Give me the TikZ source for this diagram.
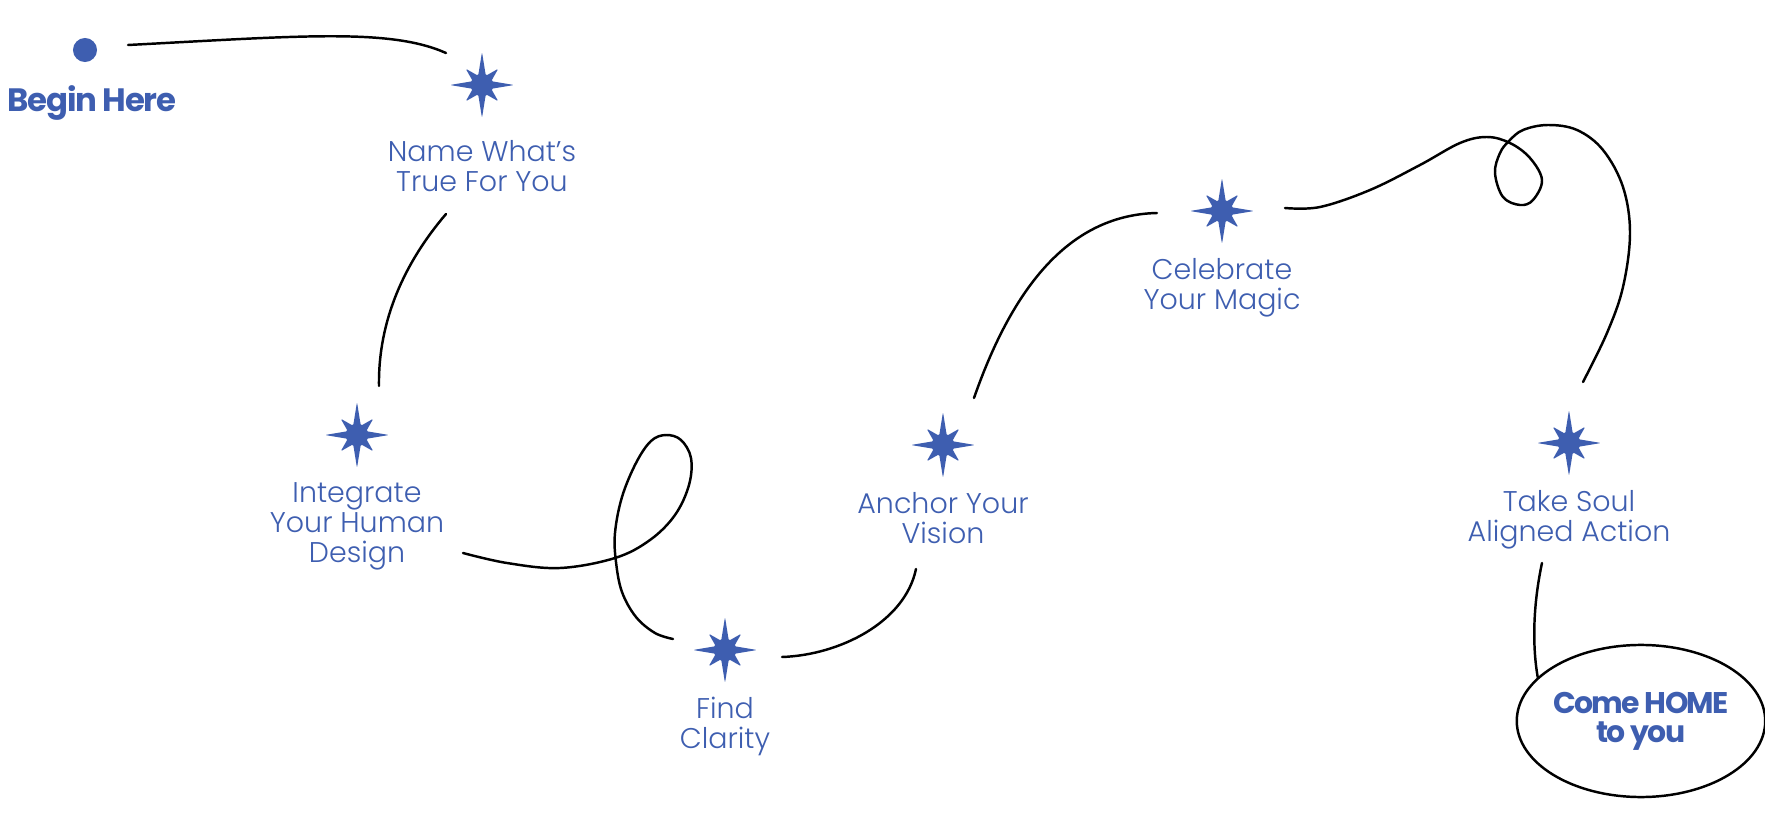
\documentclass[tikz,border=0pt]{standalone}
\usepackage{fontspec}
\setmainfont{Poppins}
\IfFontExistsTF{Poppins Light}
  {\newfontfamily\stepfont{Poppins Light}}
  {\newfontfamily\stepfont{Poppins}}
\usepackage{tikz}
\usetikzlibrary{positioning,shapes.geometric}
\definecolor{starblue}{HTML}{3E5EB0}
\newcommand{\sparkle}[1]{%
  \fill[starblue,shift={(#1.center)},rounded corners=0.4pt] (90:33) -- (67.5:10) -- (45:23) -- (22.5:10) -- (0:32)
    -- (-22.5:10) -- (-45:23) -- (-67.5:10) -- (-90:33) -- (-112.5:10) -- (-135:23)
    -- (-157.5:10) -- (180:32) -- (157.5:10) -- (135:23) -- (112.5:10) -- cycle;}

\begin{document}
\begin{tikzpicture}[
    x=0.01cm, y=-0.01cm,
    node distance=0.13cm,
    stepstar/.style={minimum size=0.66cm,inner sep=0pt},
    steptext/.style={text=starblue,align=center,inner sep=0pt,
                     font=\stepfont\fontsize{8.1}{8.54}\selectfont},
    boldtext/.style={text=starblue,align=center,inner sep=0pt,
                     font=\fontsize{9.2}{8}\selectfont\bfseries\addfontfeature{LetterSpace=-4}},
    startdot/.style={circle,fill=starblue,minimum size=0.24cm,inner sep=0pt},
    homebox/.style={ellipse,draw=black,line width=0.7pt,minimum width=2.3cm,
                    minimum height=1.52cm,inner xsep=-0.2cm,inner ysep=0pt},
    trail/.style={draw=black,line width=0.7pt,line cap=round}
]
\useasboundingbox (0,0) rectangle (1765,821);

\node[startdot] (start) at (85,50) {};
\node[boldtext,below=0.22cm of start,xshift=0.07cm] (begin) {Begin Here};

\node[stepstar] (s1) at (482,85)  {};
\node[stepstar] (s2) at (357,435) {};
\node[stepstar] (s3) at (725,650) {};
\node[stepstar] (s4) at (943,445) {};
\node[stepstar] (s5) at (1222,211) {};
\node[stepstar] (s6) at (1569,443) {};
\foreach \i in {1,...,6} {\sparkle{s\i}}

\node[steptext,below=0.21cm of s1] (name)      {Name What’s\\True For You};
\node[steptext,below=of s2]        (integrate) {Integrate\\Your Human\\Design};
\node[steptext,below=of s3]        (clarity)   {Find\\Clarity};
\node[steptext,below=of s4]        (anchor)    {Anchor Your\\Vision};
\node[steptext,below=of s5]        (celebrate) {Celebrate\\Your Magic};
\node[steptext,below=of s6]        (action)    {Take Soul\\Aligned Action};
\node[homebox,boldtext,font=\fontsize{8.5}{8.2}\selectfont\bfseries\addfontfeature{LetterSpace=-5.5}]
     (home) at (1641,721) {Come HOME\\to you};

\coordinate (l1s) at (128,45);   \coordinate (l1e) at (446,53);
\coordinate (l2s) at (446,214);  \coordinate (l2e) at (379,386);
\coordinate (l3s) at (463,553);  \coordinate (l3e) at (673,639);
\coordinate (l4s) at (782,657);  \coordinate (l4e) at (916,569);
\coordinate (l5s) at (974,398);  \coordinate (l5e) at (1157,213);
\coordinate (l6s) at (1285,208); \coordinate (l6e) at (1583,382);
\coordinate (l7s) at (1542,563);

\draw[trail] (l1s) .. controls (300,36) and (390,28) .. (l1e);
\draw[trail] (l2s) .. controls (405,262) and (378,320) .. (l2e);
\draw[trail] plot[smooth,tension=0.6] coordinates {(l3s) (507,563) (560,568) (615,558)
    (650,540) (675,515) (689,485) (691,458) (681,440) (666,435) (651,441) (636,463)
    (622,497) (615,533) (616,562) (622,592) (636,617) (655,633) (l3e)};
\draw[trail] (l4s) .. controls (840,655) and (905,622) .. (l4e);
\draw[trail] (l5s) .. controls (1010,295) and (1065,215) .. (l5e);
\draw[trail] plot[smooth,tension=0.6] coordinates {(l6s) (1320,207) (1370,190) (1420,165)
    (1460,143) (1487,137) (1510,143) (1530,158) (1542,180) (1533,200) (1520,205)
    (1503,197) (1495,173) (1500,153) (1509,141) (1523,130) (1548,125) (1577,130)
    (1603,150) (1623,187) (1630,233) (1623,287) (1607,333) (l6e)};
\draw[trail] (l7s) .. controls (1532,610) and (1533,650) .. (home.157);
\end{tikzpicture}
\end{document}
